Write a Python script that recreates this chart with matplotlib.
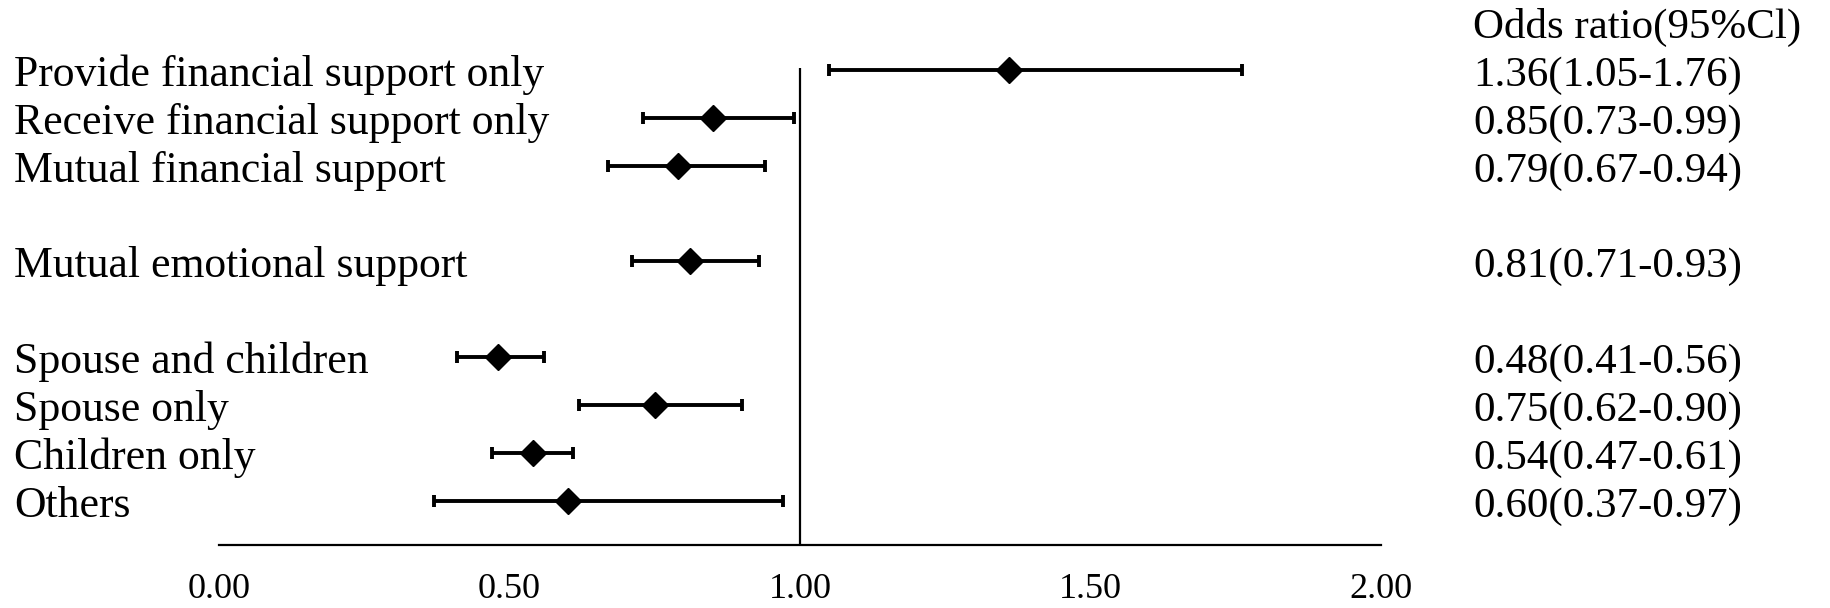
import matplotlib
matplotlib.use('Agg')
import matplotlib.pyplot as plt
import matplotlib.transforms as mtransforms

plt.rcParams['font.family'] = ['Liberation Serif', 'DejaVu Serif']

# data
labels = ['Provide financial support only', 'Receive financial support only',
          'Mutual financial support', 'Mutual emotional support',
          'Spouse and children', 'Spouse only', 'Children only', 'Others']
rows = [0, 1, 2, 4, 6, 7, 8, 9]
odds = [1.36, 0.85, 0.79, 0.81, 0.48, 0.75, 0.54, 0.60]
lower = [1.05, 0.73, 0.67, 0.71, 0.41, 0.62, 0.47, 0.37]
upper = [1.76, 0.99, 0.94, 0.93, 0.56, 0.90, 0.61, 0.97]
xticks = [0.0, 0.5, 1.0, 1.5, 2.0]
header = 'Odds ratio(95%Cl)'

W, H = 1830, 608
fig = plt.figure(figsize=(W / 100, H / 100), dpi=100)
ax = fig.add_axes([219 / W, 1 - 545 / H, (1381 - 219) / W, (545 - 68) / H])

err = [[o - l for o, l in zip(odds, lower)], [u - o for o, u in zip(odds, upper)]]
eb = ax.errorbar(odds, rows, xerr=err, fmt='D', color='black', ms=13,
                 elinewidth=2.8, capsize=4.5, capthick=2.8, zorder=3)
for art in eb.get_children():
    art.set_clip_on(False)
ax.axvline(1.0, color='black', lw=1.6)

ax.set_xlim(0, 2)
ax.set_ylim(9.92, -0.04)
ax.set_yticks([])
ax.set_xticks(xticks)
ax.set_xticklabels(['%.2f' % t for t in xticks], fontsize=26)
ax.tick_params(axis='x', length=0, pad=20)
for s in ['top', 'right', 'left']:
    ax.spines[s].set_visible(False)
ax.spines['bottom'].set_linewidth(1.6)

tr = mtransforms.blended_transform_factory(fig.transFigure, ax.transData)
off = 0.33
for lab, r, o, l, u in zip(labels, rows, odds, lower, upper):
    fig.text(14 / W, r + off, lab, transform=tr, ha='left', va='baseline', fontsize=31.5)
    fig.text(1473 / W, r + off, '%.2f(%.2f-%.2f)' % (o, l, u), transform=tr,
             ha='left', va='baseline', fontsize=31)
fig.text(1473 / W, -0.67, header, transform=tr, ha='left', va='baseline', fontsize=31)

fig.savefig('out.png', dpi=100)
plt.close()
